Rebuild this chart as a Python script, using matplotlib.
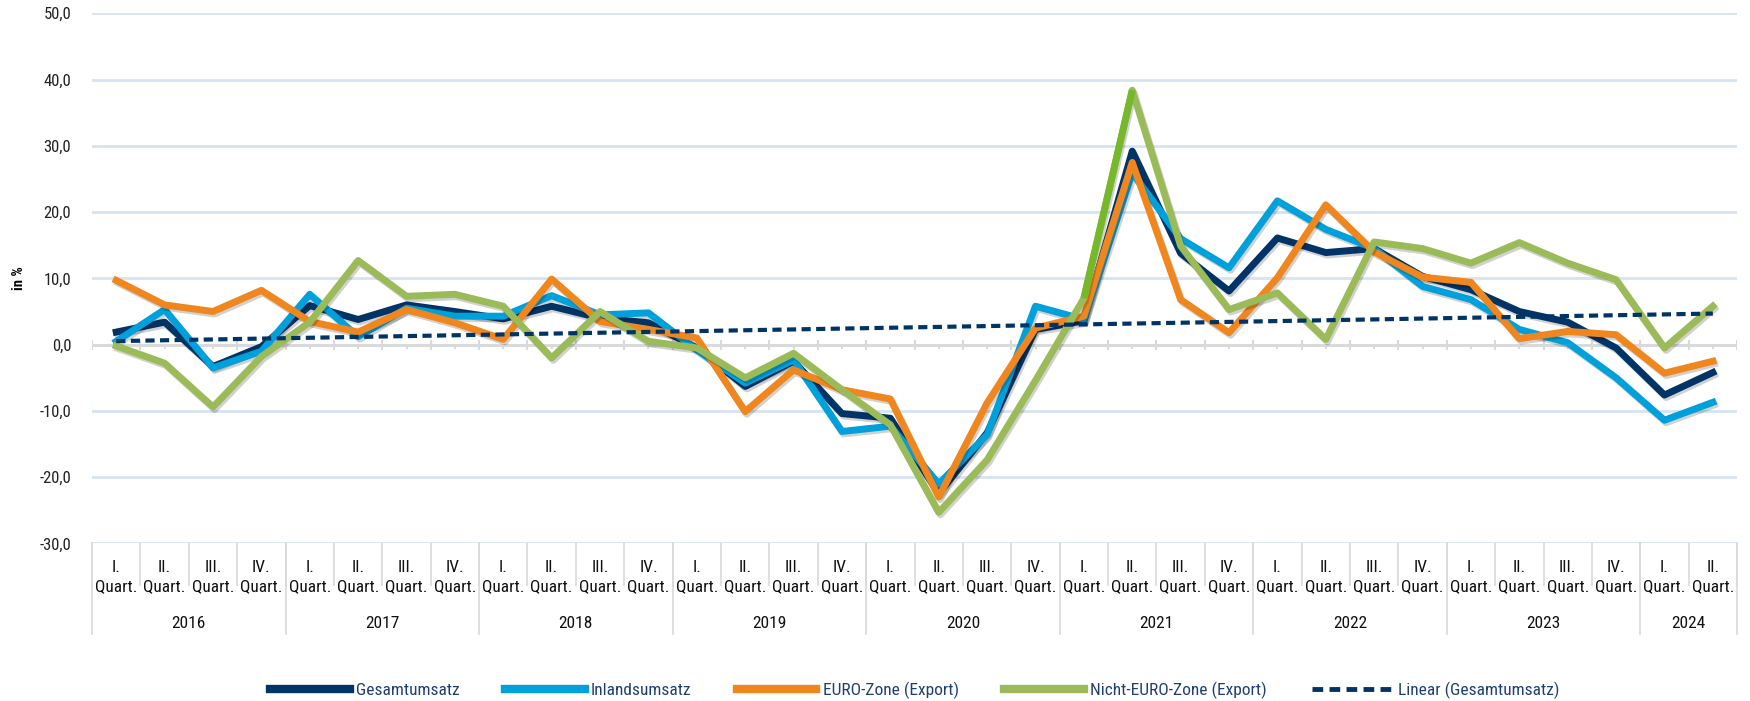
import matplotlib.pyplot as plt
import matplotlib.patheffects as pe
from matplotlib.ticker import FuncFormatter
from matplotlib import font_manager
import numpy as np

# pick a condensed face if one is installed
names = {f.name for f in font_manager.fontManager.ttflist}
cond = [f.name for f in font_manager.fontManager.ttflist if f.stretch in ('condensed', 'semi-condensed', 'extra-condensed', 600, 500)]
family = [n for n in ['Roboto Condensed', 'Open Sans Condensed', 'Liberation Sans Narrow', 'DejaVu Sans Condensed'] if n in names]
plt.rcParams['font.family'] = family + ['DejaVu Sans']
if not family:
    plt.rcParams['font.stretch'] = 'condensed'

years = ['2016', '2017', '2018', '2019', '2020', '2021', '2022', '2023', '2024']
quarters_per_year = [4, 4, 4, 4, 4, 4, 4, 4, 2]
quarter_names = ['I.', 'II.', 'III.', 'IV.']

gesamt = [1.9, 3.4, -3.3, -0.3, 5.9, 3.8, 6.0, 5.0, 3.9, 5.8, 4.0, 3.3,
          -0.5, -6.3, -2.5, -10.4, -11.1, -22.5, -13.3, 2.3, 3.6, 29.2,
          13.8, 8.1, 16.1, 13.9, 14.5, 10.3, 8.3, 5.0, 3.4, -0.5, -7.6, -4.2]
inland = [0.5, 5.3, -3.5, -1.0, 7.6, 1.2, 5.5, 4.3, 4.3, 7.4, 4.5, 4.8,
          -0.8, -5.8, -2.3, -13.1, -12.3, -21.0, -13.6, 5.8, 3.8, 25.9,
          16.0, 11.6, 21.7, 17.4, 14.5, 8.8, 6.8, 2.3, 0.3, -5.0, -11.4, -8.7]
euro = [9.7, 6.0, 5.0, 8.2, 3.5, 1.9, 5.3, 3.3, 0.8, 9.9, 3.5, 2.3,
        1.0, -10.1, -3.8, -6.8, -8.2, -23.0, -8.8, 2.5, 4.3, 27.5,
        6.8, 1.8, 10.1, 21.1, 14.0, 10.2, 9.4, 0.9, 2.0, 1.5, -4.3, -2.5]
nicht_euro = [-0.2, -2.8, -9.4, -1.8, 3.4, 12.7, 7.3, 7.6, 5.8, -2.0, 5.0, 0.5,
              -0.5, -5.0, -1.3, -6.8, -12.1, -25.3, -17.4, -5.4, 7.0, 38.4,
              14.9, 5.3, 7.8, 0.8, 15.5, 14.5, 12.3, 15.4, 12.3, 9.8, -0.5, 5.8]

x = np.arange(len(gesamt))
slope, intercept = np.polyfit(x, gesamt, 1)
trend = slope * x + intercept

fig = plt.figure(figsize=(17.5, 7.01), dpi=100)
ax = fig.add_axes([0.0526, 0.2247, 0.94, 0.7563])

shadow = [pe.SimpleLineShadow(offset=(1.2, -1.8), alpha=0.18, shadow_color='k'), pe.Normal()]
lw = 5.0
ax.plot(x, gesamt, color='#003466', lw=lw, label='Gesamtumsatz', path_effects=shadow, zorder=3)
ax.plot(x, inland, color='#00A0DB', lw=lw, label='Inlandsumsatz', path_effects=shadow, zorder=3)
ax.plot(x, euro, color='#F0861E', lw=lw, label='EURO-Zone (Export)', path_effects=shadow, zorder=3)
ax.plot(x, nicht_euro, color='#9BBB59', lw=lw, label='Nicht-EURO-Zone (Export)', path_effects=shadow, zorder=3)
# highlighted segment 2021 I. -> II.
ax.plot(x[20:22], nicht_euro[20:22], color='#76B82A', lw=lw, zorder=3.1, solid_capstyle='butt')
ax.plot(x, trend, color='#003466', lw=3.0, ls=(0, (2.2, 1.3)), label='Linear (Gesamtumsatz)', zorder=4)

ax.set_xlim(-0.5, len(x) - 0.5)
ax.set_ylim(-30, 50)
ax.set_yticks(np.arange(-30, 51, 10))
ax.yaxis.set_major_formatter(FuncFormatter(lambda v, p: f'{v:.1f}'.replace('.', ',')))
ax.tick_params(axis='y', length=0, pad=15, labelsize=12, labelcolor='#222222')
ax.grid(axis='y', color='#D6E3F3', lw=2)
ax.set_axisbelow(True)
for s in ax.spines.values():
    s.set_visible(False)

ax.set_ylabel('in %', fontsize=10.5, fontweight='bold', labelpad=10)

# zero axis with tick marks
ax.axhline(0, color='#D9D9D9', lw=2, zorder=1)
bounds = np.arange(-0.5, len(x), 1.0)
ax.vlines(bounds, -0.75, 0.75, color='#D9D9D9', lw=1.5, zorder=1)
ax.vlines(x, -0.6, 0, color='#D9D9D9', lw=1.5, zorder=1)

# category labels
qlabels = []
for n in quarters_per_year:
    qlabels += [q + '\nQuart.' for q in quarter_names[:n]]
ax.set_xticks(x)
ax.set_xticklabels(qlabels, fontsize=12.5, linespacing=1.35, color='#111111')
ax.tick_params(axis='x', length=0, pad=12)

trans = ax.get_xaxis_transform()
ax.vlines(bounds, -0.08, 0, transform=trans, color='#D9D9D9', lw=1.2, clip_on=False)
start = 0
for yr, n in zip(years, quarters_per_year):
    ax.text(start + (n - 1) / 2, -0.151, yr, transform=trans, ha='center', va='center',
            fontsize=12.5, color='#111111')
    ax.plot([start - 0.5, start - 0.5], [-0.17, 0], transform=trans, color='#D9D9D9',
            lw=1.2, clip_on=False)
    start += n
ax.plot([start - 0.5, start - 0.5], [-0.17, 0], transform=trans, color='#D9D9D9',
        lw=1.2, clip_on=False)

leg = ax.legend(loc='center', bbox_to_anchor=(0.5, -0.277), ncol=5, frameon=False,
                fontsize=12.5, handlelength=4.6, handletextpad=0.35, columnspacing=2.6,
                labelcolor='#1F3F73')
for h in leg.legend_handles:
    h.set_linewidth(6 if h.get_linestyle() == '-' else 3.5)
    h.set_path_effects([])

fig.savefig('out.png', dpi=100)
